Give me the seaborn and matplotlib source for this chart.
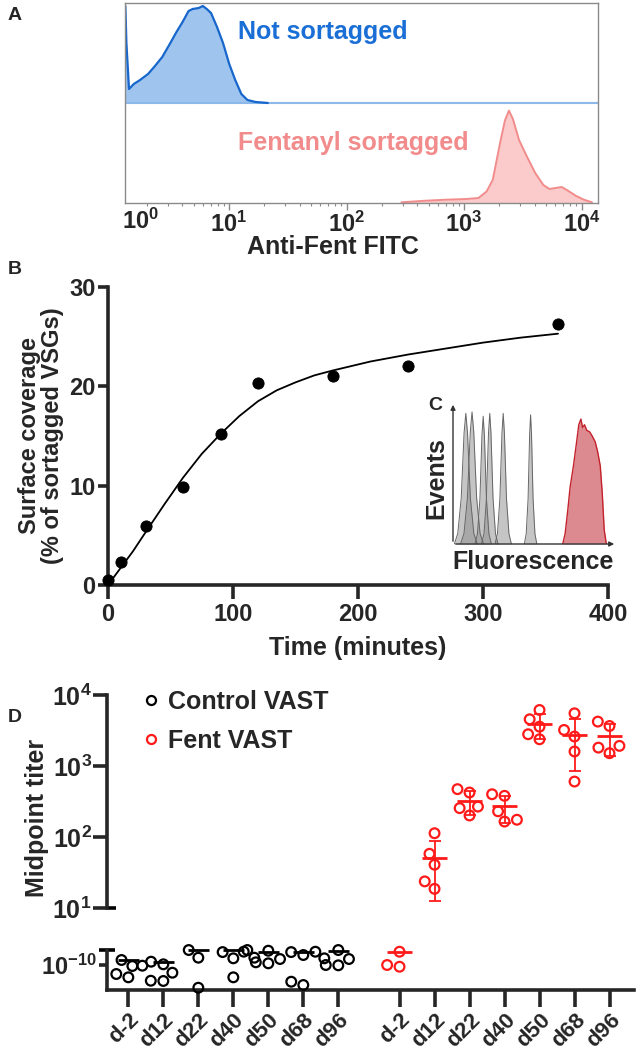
import numpy as np
import pandas as pd
import matplotlib
matplotlib.use("Agg")
import matplotlib.pyplot as plt
from matplotlib.lines import Line2D
from matplotlib.ticker import NullLocator, LogLocator
import matplotlib.transforms as mtrans
import seaborn as sns

sns.set_theme(style="ticks")
plt.rcParams['font.family'] = ['Liberation Sans', 'DejaVu Sans']
plt.rcParams['font.weight'] = 'bold'
plt.rcParams['axes.labelweight'] = 'bold'
plt.rcParams['mathtext.fontset'] = 'custom'
plt.rcParams['mathtext.rm'] = 'Liberation Sans:bold'
plt.rcParams['mathtext.bf'] = 'Liberation Sans:bold'
plt.rcParams['mathtext.it'] = 'Liberation Sans:bold'

# ---- panel A: flow histograms (log10 FITC, normalised height)
blue_log_fitc = [0.115, 0.118, 0.127, 0.149, 0.190, 0.243, 0.311, 0.363, 0.432, 0.501, 0.553, 0.605, 0.656,
                 0.691, 0.743, 0.777, 0.811, 0.847, 0.898, 0.949, 1.002, 1.053, 1.105, 1.157, 1.226, 1.330]
blue_height = [0.97, 0.97, 0.6, 0.14, 0.19, 0.23, 0.29, 0.36, 0.46, 0.60, 0.71, 0.81, 0.92,
               0.94, 0.95, 0.97, 0.94, 0.90, 0.76, 0.60, 0.39, 0.23, 0.09, 0.03, 0.01, 0.0]
pink_log_fitc = [2.468, 2.674, 2.847, 3.019, 3.123, 3.192, 3.244, 3.278, 3.312, 3.348, 3.382, 3.416,
                 3.468, 3.537, 3.606, 3.675, 3.727, 3.778, 3.831, 3.882, 3.950, 4.020, 4.089]
pink_height = [0.007, 0.023, 0.033, 0.04, 0.05, 0.115, 0.23, 0.43, 0.63, 0.825, 0.924, 0.84,
               0.63, 0.46, 0.30, 0.18, 0.14, 0.15, 0.16, 0.125, 0.073, 0.033, 0.007]
fitc_range = (10 ** 0.115, 10 ** 4.14)

# ---- panel B: sortagging kinetics
time_min = [0, 10, 30, 60, 90, 120, 180, 240, 360]
coverage = [0.5, 2.3, 5.9, 9.9, 15.2, 20.3, 21.0, 22.0, 26.3]
fit_time = [0, 10, 20, 30, 45, 60, 75, 90, 105, 120, 135, 150, 165, 180, 210, 240, 270, 300, 330, 360]
fit_cov = [0.0, 1.7, 3.4, 5.3, 8.1, 10.8, 13.2, 15.2, 17.0, 18.5, 19.6, 20.4, 21.1, 21.6, 22.5, 23.2,
           23.8, 24.4, 24.9, 25.3]

# ---- panel C: inset histograms
gray_center = [7.8, 11.6, 18.4, 22.4, 30.6, 47.3]
gray_peak = [0.92, 0.93, 0.90, 0.92, 0.92, 0.91]
gray_halfwidth = [7.0, 7.0, 5.0, 5.0, 5.0, 3.8]
peak_shape_offset = [-1.0, -0.7, -0.4, -0.15, 0.0, 0.15, 0.4, 0.7, 1.0]
peak_shape_height = [0.0, 0.08, 0.35, 0.85, 1.0, 0.85, 0.35, 0.08, 0.0]
red_fluor = [66.9, 68.4, 70.0, 71.4, 73.5, 75.5, 76.7, 78.0, 79.0, 80.2, 81.6, 83.3, 84.9, 86.7,
             88.2, 89.8, 91.0, 92.2, 93.5]
red_events = [0.0, 0.075, 0.24, 0.40, 0.555, 0.73, 0.84, 0.88, 0.82, 0.84, 0.80, 0.79, 0.76, 0.72,
              0.65, 0.55, 0.36, 0.10, 0.0]

# ---- panel D: midpoint titers
days = ["d-2", "d12", "d22", "d40", "d50", "d68", "d96"]
fent_d12 = [113, 58, 40.7, 23.7, 18.6]
fent_d22 = [423, 472, 268, 255, 201]
fent_d40 = [380, 400, 230, 165, 175]
fent_d50 = [6150, 3580, 4550, 2380, 2800]
fent_d68 = [5520, 3220, 2600, 1600, 604]
fent_d96 = [4220, 3660, 1920, 1515, 1815]
# undetectable samples, in units of 1e-10
ctrl_dm2 = [1.176, 0.978, 0.968, 0.747, 0.671]
ctrl_d12 = [1.113, 1.023, 0.779, 0.601, 0.596]
ctrl_d22 = [1.625, 1.267, 0.479]
ctrl_d40 = [1.625, 1.54, 1.52, 1.242, 0.671]
ctrl_d50 = [1.589, 1.267, 1.214, 1.091, 1.056]
ctrl_d68 = [1.538, 1.52, 1.382, 0.582, 0.523]
ctrl_d96 = [1.625, 1.242, 1.214, 1.0, 0.99]
fent_dm2 = [1.538, 1.0, 0.946]
ctrl_line = [1.176, 1.113, 1.625, 1.625, 1.538, 1.538, 1.57]
fent_dm2_line = 1.538

W, H = 636, 1050
def px_rect(l, t, r, b):
    return [l / W, 1 - b / H, (r - l) / W, (b - t) / H]

fig = plt.figure(figsize=(W / 100, H / 100), dpi=100)

# ================= A
axA = fig.add_axes(px_rect(125, 3, 598, 203))
bx = 10 ** np.array(blue_log_fitc)
px = 10 ** np.array(pink_log_fitc)
by = 1 + np.array(blue_height)
axA.fill_between(bx, 1, by, color="#9fc5ee", lw=0)
axA.fill_between(px, 0, pink_height, color="#fbcaca", lw=0)
axA.axhline(1, color="#8cb9ea", lw=1.5)
sns.lineplot(x=bx, y=by, color="#1766cc", lw=1.6, sort=False, estimator=None, ax=axA)
sns.lineplot(x=px, y=pink_height, color="#f28c8c", lw=1.4, sort=False, estimator=None, ax=axA)
axA.set_xscale("log")
axA.set_xlim(*fitc_range)
axA.set_ylim(0, 2)
axA.set_yticks([])
axA.set_xticks([10, 100, 1000, 10000])
axA.set_xticklabels([r"$\mathbf{10^{%d}}$" % k for k in range(1, 5)])
axA.xaxis.set_minor_locator(LogLocator(base=10, subs=np.arange(2, 10)))
for s in axA.spines.values():
    s.set_color("#8a8a8a")
    s.set_linewidth(1)
axA.tick_params(axis="x", which="major", length=5, width=1, color="#8a8a8a", labelsize=17, pad=1)
axA.tick_params(axis="x", which="minor", length=2.5, width=0.8, color="#8a8a8a")
axA.text(0.032, -0.03, r"$\mathbf{10^{0}}$", transform=axA.transAxes, fontsize=17,
         ha="center", va="top")
axA.set_xlabel("Anti-Fent FITC", fontsize=18, labelpad=1)
axA.xaxis.set_label_coords(0.44, -0.16)
axA.text(0.239, 0.855, "Not sortagged", transform=axA.transAxes, color="#1a6fd6",
         fontsize=18, fontweight="bold", va="center")
axA.text(0.239, 0.30, "Fentanyl sortagged", transform=axA.transAxes, color="#f28b8b",
         fontsize=18, fontweight="bold", va="center")

# ================= B
axB = fig.add_axes(px_rect(108, 287, 608, 585))
sns.lineplot(x=fit_time, y=fit_cov, color="black", lw=1.3, sort=False, estimator=None, ax=axB)
sns.scatterplot(x=time_min, y=coverage, color="black", s=65, edgecolor="black", zorder=3,
                clip_on=False, ax=axB)
axB.set_xlim(0, 400)
axB.set_ylim(0, 30)
axB.set_xticks([0, 100, 200, 300, 400])
axB.set_yticks([0, 10, 20, 30])
sns.despine(ax=axB)
for s in ["left", "bottom"]:
    axB.spines[s].set_linewidth(2.6)
axB.tick_params(width=2.6, labelsize=17)
axB.tick_params(axis="x", length=10, pad=3)
axB.tick_params(axis="y", length=7, pad=2)
axB.set_xlabel("Time (minutes)", fontsize=18, labelpad=7)
axB.set_ylabel("Surface coverage\n(% of sortagged VSGs)", fontsize=17, labelpad=4, linespacing=1.0)

# ================= C (inset)
axC = fig.add_axes(px_rect(453, 402, 617, 544))
axC.patch.set_alpha(0)
for c, h, w in zip(gray_center, gray_peak, gray_halfwidth):
    gx = c + w * np.array(peak_shape_offset)
    gy = h * np.array(peak_shape_height)
    axC.fill_between(gx, 0, gy, color="#8c8c8c", alpha=0.5, lw=0)
    axC.plot(gx, gy, color="#666666", lw=0.7)
axC.fill_between(red_fluor, 0, red_events, color="#dc8a90", lw=0)
sns.lineplot(x=red_fluor, y=red_events, color="#c3222c", lw=1.0, sort=False, estimator=None, ax=axC)
axC.set_xlim(0, 100)
axC.set_ylim(0, 1)
axC.set_xticks([])
axC.set_yticks([])
for s in axC.spines.values():
    s.set_visible(False)
axC.annotate("", xy=(1.0, 0), xytext=(0, 0), xycoords="axes fraction",
             arrowprops=dict(arrowstyle="-|>", color="#333333", lw=1.0, mutation_scale=7))
axC.annotate("", xy=(0, 1.0), xytext=(0, 0), xycoords="axes fraction",
             arrowprops=dict(arrowstyle="-|>", color="#333333", lw=1.0, mutation_scale=7))
fig.text(436 / W, 1 - 478 / H, "Events", rotation=90, fontsize=18, ha="center", va="center")
fig.text(533 / W, 1 - 562 / H, "Fluorescence", fontsize=18, ha="center", va="center")

# ================= D
rows = []
fent_up = [fent_d12, fent_d22, fent_d40, fent_d50, fent_d68, fent_d96]
for i, vals in enumerate(fent_up):
    for v in vals:
        rows.append(("Fent VAST", days[i + 1], 7.75 + i + 1, v))
df_up = pd.DataFrame(rows, columns=["group", "day", "pos", "titer"])

rows = []
ctrl_low = [ctrl_dm2, ctrl_d12, ctrl_d22, ctrl_d40, ctrl_d50, ctrl_d68, ctrl_d96]
for i, vals in enumerate(ctrl_low):
    for v in vals:
        rows.append(("Control VAST", days[i], i, v * 1e-10))
for v in fent_dm2:
    rows.append(("Fent VAST", "d-2", 7.75, v * 1e-10))
df_low = pd.DataFrame(rows, columns=["group", "day", "pos", "titer"])

pal = {"Control VAST": "black", "Fent VAST": "#ff1a1a"}
xlim = (-0.61, 14.45)

axU = fig.add_axes(px_rect(107, 695, 634, 908))
axL = fig.add_axes(px_rect(107, 950, 634, 990))
for ax in (axU, axL):
    ax.patch.set_alpha(0)

axU.set_yscale("log")
axU.set_ylim(10, 1e4)
axU.set_xlim(*xlim)
sns.swarmplot(data=df_up, x="pos", y="titer", hue="group", palette=pal, native_scale=True,
              size=7, ax=axU, legend=False)
axU.set_xlim(*xlim)
axU.set_ylim(10, 1e4)

axL.set_yscale("log")
axL.set_ylim(0.445e-10, 1.626e-10)
axL.set_xlim(*xlim)
sns.swarmplot(data=df_low, x="pos", y="titer", hue="group", palette=pal, native_scale=True,
              size=7, ax=axL, legend=False)
axL.set_xlim(*xlim)
axL.set_ylim(0.445e-10, 1.626e-10)

for ax in (axU, axL):
    for coll in ax.collections:
        fc = coll.get_facecolors()
        coll.set_edgecolors(fc)
        coll.set_facecolors("none")
        coll.set_linewidth(1.6)
        coll.set_clip_on(False)

# mean +/- SD for detected Fent titers
stats = df_up.groupby("pos")["titer"].agg(["mean", "std"]).reset_index()
axU.errorbar(stats["pos"], stats["mean"], yerr=stats["std"], fmt="none", ecolor="#ff1a1a",
             elinewidth=1.3, capsize=4.5, capthick=1.3, zorder=4)
axU.hlines(stats["mean"], stats["pos"] - 0.35, stats["pos"] + 0.35, color="#ff1a1a", lw=2, zorder=4)
axL.hlines(np.array(ctrl_line) * 1e-10, np.arange(7) - 0.3, np.arange(7) + 0.3, color="black",
           lw=2, zorder=4, clip_on=False)
axL.hlines(fent_dm2_line * 1e-10, 7.75 - 0.35, 7.75 + 0.35, color="#ff1a1a", lw=2, zorder=4,
           clip_on=False)

# axes styling
for s in ["top", "right", "bottom"]:
    axU.spines[s].set_visible(False)
axU.spines["left"].set_linewidth(2.6)
axU.set_xticks([])
axU.set_yticks([10, 100, 1000, 10000])
axU.set_yticklabels([r"$\mathbf{10^{%d}}$" % k for k in range(1, 5)])
axU.yaxis.set_minor_locator(NullLocator())
axU.tick_params(axis="y", width=2.6, length=10, labelsize=18, pad=1)
axU.set_xlabel("")
axU.set_ylabel("")
capT = mtrans.blended_transform_factory(axU.transAxes, axU.transData)
axU.plot([0, 0.017], [10, 10], color="black", lw=2.6, transform=capT, clip_on=False,
         solid_capstyle="butt")

for s in ["top", "right"]:
    axL.spines[s].set_visible(False)
axL.spines["left"].set_linewidth(2.6)
axL.spines["bottom"].set_linewidth(2.6)
axL.set_yticks([1e-10])
axL.set_yticklabels([r"$\mathbf{10^{-10}}$"])
axL.yaxis.set_minor_locator(NullLocator())
axL.tick_params(axis="y", width=2.6, length=6, labelsize=17, pad=1)
positions = list(range(7)) + [7.75 + i for i in range(7)]
axL.set_xticks(positions)
axL.set_xticklabels(days + days, rotation=45, ha="right", rotation_mode="anchor")
axL.tick_params(axis="x", width=2.6, length=12, labelsize=16, pad=2)
axL.set_xlabel("")
axL.set_ylabel("")
axL.plot([-0.016, 0.016], [1, 1], color="black", lw=2.6, transform=axL.transAxes, clip_on=False,
         solid_capstyle="butt")

handles = [Line2D([], [], ls="none", marker="o", mfc="none", mec=c, mew=1.6, ms=6.5) for c in pal.values()]
axU.legend(handles, list(pal.keys()), loc="upper left", bbox_to_anchor=(0.04, 1.07), frameon=False,
           fontsize=18, handletextpad=0.2, handlelength=1.0, labelspacing=0.6, borderaxespad=0)

fig.text(37 / W, 1 - 818 / H, "Midpoint titer", rotation=90, fontsize=18, ha="center", va="center")

# panel letters
fig.text(8 / W, 1 - 16 / H, "A", fontsize=14, fontweight="bold", va="center")
fig.text(8 / W, 1 - 270 / H, "B", fontsize=14, fontweight="bold", va="center")
fig.text(428 / W, 1 - 406 / H, "C", fontsize=14, fontweight="bold", va="center")
fig.text(8 / W, 1 - 718 / H, "D", fontsize=14, fontweight="bold", va="center")

fig.savefig("out.png", dpi=100)
